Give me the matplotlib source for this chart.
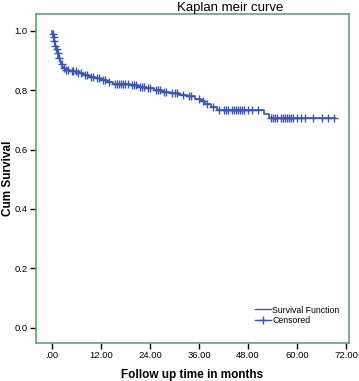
import numpy as np
import matplotlib
matplotlib.use("Agg")
import matplotlib.pyplot as plt
from matplotlib.lines import Line2D

# Kaplan-Meier step data (time of drop, survival after drop)
event_t = [0.1, 0.3, 0.5, 0.7, 1.0, 1.3, 1.6, 1.9, 2.2, 2.5, 2.8, 3.2,
           4.5, 6.0, 7.5, 9.0, 10.5, 12.0, 13.5, 15.0,
           19.0, 21.0, 23.0, 25.0, 27.0, 29.0, 31.0, 33.0, 35.0, 36.5,
           37.5, 39.0, 40.5, 52.0, 53.0]
surv = [0.99, 0.98, 0.965, 0.95, 0.94, 0.925, 0.91, 0.90, 0.89, 0.88, 0.875, 0.868,
        0.864, 0.858, 0.852, 0.846, 0.84, 0.834, 0.828, 0.822,
        0.818, 0.812, 0.806, 0.80, 0.795, 0.79, 0.785, 0.78, 0.772, 0.765,
        0.752, 0.745, 0.733, 0.72, 0.705]
censor_t = [0.2, 0.4, 0.6, 0.8, 1.2, 1.5, 1.8, 2.4, 3.0, 3.5, 4.0, 4.8, 5.2, 5.8,
            6.5, 7.0, 8.0, 8.5, 9.5, 10.0, 11.0, 11.5, 12.5, 13.0, 14.0, 15.5,
            16.0, 16.5, 17.0, 17.5, 18.0, 18.5, 19.5, 20.0, 20.5, 21.5, 22.0,
            22.5, 23.5, 24.0, 25.5, 26.0, 26.5, 27.5, 28.0, 29.5, 30.0, 30.5,
            32.0, 33.5, 34.0, 36.0, 37.0, 38.0, 39.5, 41.0, 42.0, 42.5, 43.0,
            44.0, 44.5, 45.0, 45.5, 46.0, 46.5, 47.0, 48.0, 49.0, 50.5, 53.5,
            54.0, 54.5, 55.0, 56.0, 56.5, 57.0, 57.5, 58.0, 58.5, 59.0, 60.0,
            61.0, 62.0, 64.0, 66.0, 67.5, 69.0]
end_t = 69.3

xticks = [0, 12, 24, 36, 48, 60, 72]
xlabels = [".00", "12.00", "24.00", "36.00", "48.00", "60.00", "72.00"]
yticks = [0.0, 0.2, 0.4, 0.6, 0.8, 1.0]

plt.rcParams['font.family'] = ['Liberation Sans', 'DejaVu Sans']
blue = '#3a56b0'
green = '#6a9e7a'

fig = plt.figure(figsize=(3.59, 3.81), dpi=100)
ax = fig.add_axes([36/359, 1 - 343/381, (349-36)/359, (343-14)/381])

xs = np.concatenate([[0.0], event_t, [end_t]])
ys = np.concatenate([[1.0], surv, [surv[-1]]])
ax.step(xs, ys, where='post', color=blue, lw=1.2)

idx = np.searchsorted(event_t, censor_t, side='right')
cy = np.concatenate([[1.0], surv])[idx]
ax.plot(censor_t, cy, ls='none', marker='+', color=blue, ms=6, mew=1.0)

ax.set_xlim(-3.9, 72.7)
ax.set_ylim(-0.052, 1.057)
ax.set_xticks(xticks)
ax.set_xticklabels(xlabels)
ax.set_yticks(yticks)
ax.set_yticklabels([f"{v:.1f}" for v in yticks])
ax.tick_params(labelsize=6.8, length=4, width=1, color='black', pad=2)

for s in ax.spines.values():
    s.set_color(green)
    s.set_linewidth(1.2)

ax.set_xlabel("Follow up time in months", fontsize=8.5, fontweight='bold', labelpad=6)
ax.set_ylabel("Cum Survival", fontsize=8.5, fontweight='bold')
ax.yaxis.set_label_coords(-0.069, 0.5)
fig.text(230/359, 1 - 8/381, "Kaplan meir curve", fontsize=9.5,
         ha='center', va='center')

handles = [Line2D([], [], color=blue, lw=1.0, drawstyle='steps-post'),
           Line2D([], [], color=blue, lw=1.0, marker='+', ms=6)]
ax.legend(handles, ["Survival Function", "Censored"], loc='lower right',
          bbox_to_anchor=(0.995, 0.03), frameon=False, fontsize=6.3,
          handlelength=1.8, handletextpad=0.2, labelspacing=0.2)

fig.savefig("out.png", dpi=100)
